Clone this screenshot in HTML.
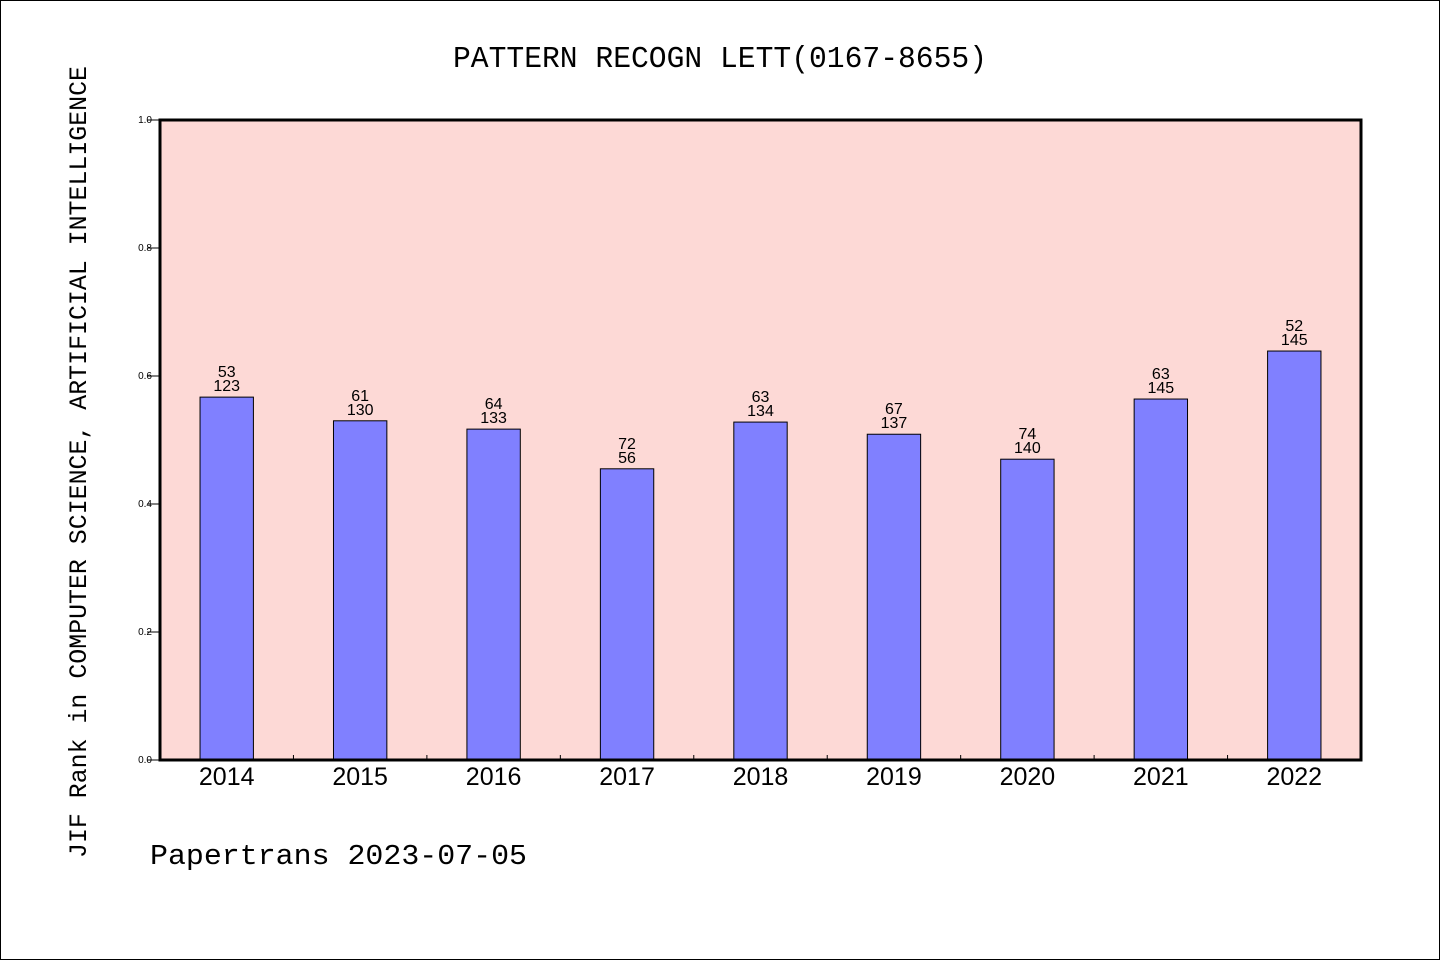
<!DOCTYPE html>
<html><head><meta charset="utf-8"><style>
body{margin:0;background:#fff}
svg{display:block;font-family:"Liberation Mono","WenQuanYi Zen Hei",monospace}
</style></head><body>
<svg id="chart" width="1440" height="960" xmlns="http://www.w3.org/2000/svg">
<rect x="0.5" y="0.5" width="1439" height="959" fill="#fff" stroke="#000"/>
<text x="720" y="67" text-anchor="middle" font-size="31" textLength="534" lengthAdjust="spacingAndGlyphs">PATTERN RECOGN LETT(0167-8655)</text>
<rect x="160" y="120" width="1201" height="640" fill="#fdd9d6"/>
<g id="yaxis"></g>
<g id="bars"></g>
<rect x="160" y="120" width="1201" height="640" fill="none" stroke="#000" stroke-width="3"/>
<g id="xaxis"></g>
<text transform="translate(86,462) rotate(-90)" text-anchor="middle" font-size="25" textLength="792" lengthAdjust="spacingAndGlyphs">JIF Rank in COMPUTER SCIENCE, ARTIFICIAL INTELLIGENCE</text>
<text x="150" y="864" font-size="29" textLength="377" lengthAdjust="spacingAndGlyphs">Papertrans 2023-07-05</text>
</svg>
<script>
const years = ["2014","2015","2016","2017","2018","2019","2020","2021","2022"];
const values = [0.567,0.530,0.517,0.455,0.528,0.509,0.470,0.564,0.639];
const ranks = ["53","61","64","72","63","67","74","63","52"];
const totals = ["123","130","133","56","134","137","140","145","145"];
const yTicks = [0,0.2,0.4,0.6,0.8,1.0];
const NS="http://www.w3.org/2000/svg";
const L=160,R=1361,T=120,B=760;
const band=(R-L)/years.length;
const xC=i=>L+band*(i+0.5);
const y=v=>B-(v)*(B-T);
function mk(tag,attrs,parent,text){const e=document.createElementNS(NS,tag);for(const k in attrs)e.setAttribute(k,attrs[k]);if(text!==undefined)e.textContent=text;parent.appendChild(e);return e;}
const ya=document.getElementById('yaxis'),xa=document.getElementById('xaxis'),bg=document.getElementById('bars');
yTicks.forEach(t=>{
  const l=mk('line',{x1:147,x2:160,y1:y(t),y2:y(t),stroke:'#000','stroke-width':1},ya);
  
  
  const tx=mk('text',{x:152,y:y(t)+3,'text-anchor':'end','font-size':10,'font-family':'Liberation Sans, sans-serif'},ya,t.toFixed(1));
  
  
});
years.forEach((yr,i)=>{
  const bw=band*0.4,x=xC(i)-bw/2,top=y(values[i]);
  const r=mk('rect',{x:x,y:top,width:bw,height:B-top,fill:'#8080ff',stroke:'#000','stroke-width':1},bg);
  
  
  const t1=mk('text',{x:xC(i),y:top-20,'text-anchor':'middle','font-size':16,'font-family':'Liberation Sans, sans-serif'},bg,ranks[i]);
  
  
  const t2=mk('text',{x:xC(i),y:top-6,'text-anchor':'middle','font-size':16,'font-family':'Liberation Sans, sans-serif'},bg,totals[i]);
  
  
  const xl=mk('text',{x:xC(i),y:785,'text-anchor':'middle','font-size':25,'font-family':'Liberation Sans, sans-serif'},xa,yr);
  
  
  if(i>0){const tk=mk('line',{x1:L+band*i,x2:L+band*i,y1:B-5,y2:B,stroke:'#000','stroke-width':1},xa);
  
  }
});
</script>
</body></html>
